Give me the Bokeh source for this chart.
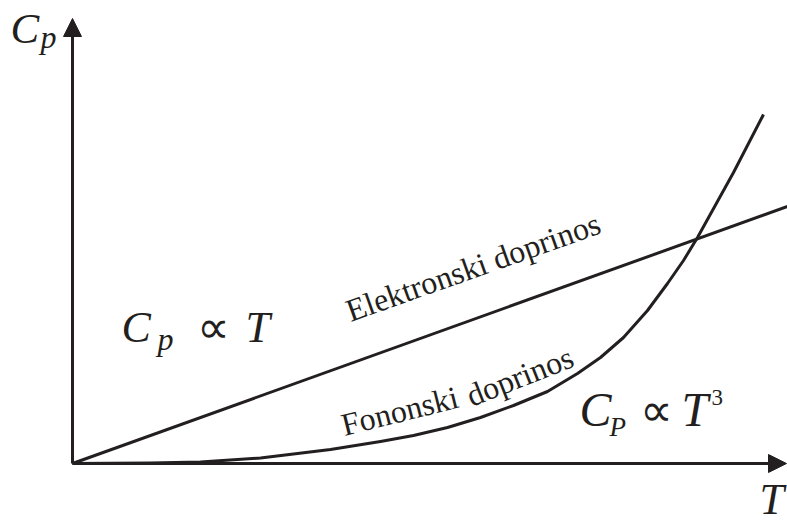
from bokeh.plotting import figure
from bokeh.models import Range1d, Arrow, NormalHead
from bokeh.core.properties import value
from bokeh.embed import file_html
from bokeh.resources import INLINE
import math

# Electron contribution (straight line, Cp ~ T)
T_el = [0.0, 7.15]
Cp_el = [0.0, 2.57]

# Phonon contribution (Cp ~ T^3)
T_ph = [0.0, 0.78, 1.28, 1.88, 2.58, 3.08, 3.41, 3.75, 4.08, 4.41, 4.75,
        5.05, 5.28, 5.51, 5.75, 5.95, 6.11, 6.25, 6.61, 6.91]
Cp_ph = [0.0, 0.005, 0.015, 0.055, 0.14, 0.22, 0.28, 0.36, 0.46, 0.58, 0.72,
         0.90, 1.06, 1.26, 1.53, 1.80, 2.03, 2.26, 2.91, 3.49]

# Axis extents
x_axis_end = 7.14
y_axis_end = 4.45

INK = "#231f20"
SERIF = value("Liberation Serif")
PX = 100.0  # pixels per data unit (both axes)
BASELINE_FIX = 0.33  # em, compensates the renderer's baseline offset

p = figure(width=787, height=524, output_backend="svg", toolbar_location=None,
           x_range=Range1d(-0.72, 7.15), y_range=Range1d(-0.61, 4.63),
           min_border=0)
p.axis.visible = False
p.grid.visible = False
p.outline_line_color = None
p.background_fill_color = "white"
p.border_fill_color = "white"

# Axes with arrows
p.add_layout(Arrow(x_start=0, y_start=0, x_end=x_axis_end, y_end=0,
                   line_width=3, line_color=INK,
                   end=NormalHead(size=18, fill_color=INK, line_color=INK, line_width=1)))
p.add_layout(Arrow(x_start=0, y_start=0, x_end=0, y_end=y_axis_end,
                   line_width=3, line_color=INK,
                   end=NormalHead(size=18, fill_color=INK, line_color=INK, line_width=1)))

# Curves
p.line(T_el, Cp_el, line_width=3, line_color=INK)
p.line(T_ph, Cp_ph, line_width=3, line_color=INK, line_join="round")

def txt(x, y, s, size, style="italic", angle_deg=0.0):
    a = math.radians(angle_deg)
    d = BASELINE_FIX * size
    xa = x - d * math.sin(a) / PX
    ya = y + d * math.cos(a) / PX
    p.text(x=[xa], y=[ya], text=[s], text_font=SERIF, text_font_size=f"{size}px",
           text_font_style=style, text_color=INK, text_align="left",
           text_baseline="alphabetic", angle=a)

# Axis labels
txt(-0.62, 4.21, "C", 43)
txt(-0.32, 4.16, "p", 32)
txt(6.87, -0.505, "T", 44)

# Cp ~ T
txt(0.49, 1.21, "C", 44)
txt(0.85, 1.14, "p", 32)
txt(1.24, 1.21, "\u221d", 46, style="normal")
txt(1.73, 1.21, "T", 44)

# Cp ~ T^3
txt(5.07, 0.38, "C", 48)
txt(5.37, 0.28, "P", 27)
txt(5.67, 0.38, "\u221d", 46, style="normal")
txt(6.09, 0.38, "T", 48)
txt(6.39, 0.58, "3", 23, style="normal")

# Curve labels
txt(2.78, 1.42, "Elektronski doprinos", 32, style="normal", angle_deg=19.5)
txt(2.72, 0.28, "Fononski", 32, style="normal", angle_deg=14)
txt(3.99, 0.57, "doprinos", 32, style="normal", angle_deg=21.5)

open("out.html", "w").write(file_html(p, INLINE))
